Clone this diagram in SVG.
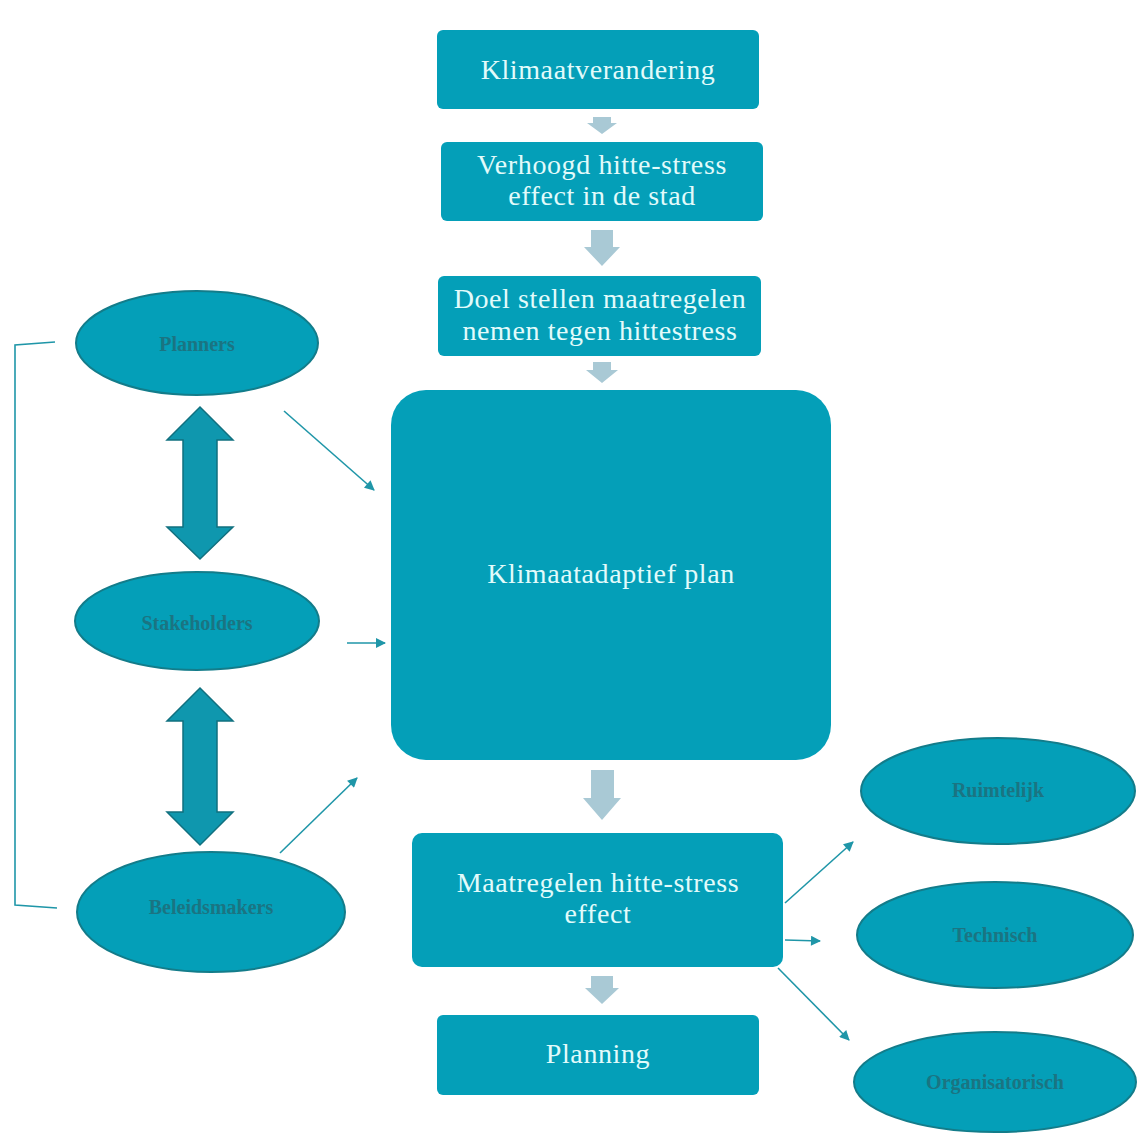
<svg xmlns="http://www.w3.org/2000/svg" width="1143" height="1142" viewBox="0 0 1143 1142">
<style>
.box{fill:#049fb8;}
.ell{fill:#049fb8;stroke:#137c8a;stroke-width:2;}
.t{font-family:"Liberation Serif",serif;font-size:28px;letter-spacing:0.6px;fill:#e2fbfb;text-anchor:middle;}
.e{font-family:"Liberation Serif",serif;font-size:20px;font-weight:bold;fill:#1b7482;text-anchor:middle;}
.ga{fill:#a9c9d5;}
.ln{stroke:#1f96a8;stroke-width:1.6;fill:none;}
.dbl{fill:#0f97ae;stroke:#11707f;stroke-width:1.5;}
</style>
<defs>
<marker id="ah" viewBox="0 0 10 10" refX="9" refY="5" markerWidth="11" markerHeight="10" orient="auto" markerUnits="userSpaceOnUse">
<path d="M0,0 L10,5 L0,10 z" fill="#1f96a8"/>
</marker>
</defs>
<rect width="1143" height="1142" fill="#ffffff"/>
<g id="connectors">
<polygon class="ga" points="593,117 611,117 611,123 617,123 602,134 587,123 593,123"/>
<polygon class="ga" points="591,230 613,230 613,247 620,247 602,266 584,247 591,247"/>
<polygon class="ga" points="593,362 611,362 611,370 618,370 602,383 586,370 593,370"/>
<polygon class="ga" points="591,770 614,770 614,798 621,798 602,820 583,798 591,798"/>
<polygon class="ga" points="591,976 613,976 613,988 619,988 602,1004 585,988 591,988"/>
<polyline class="ln" points="55,342 15,345 15,905 57,908"/>
<line class="ln" x1="284" y1="411" x2="374" y2="490" marker-end="url(#ah)"/>
<line class="ln" x1="347" y1="643" x2="385" y2="643" marker-end="url(#ah)"/>
<line class="ln" x1="280" y1="853" x2="357" y2="778" marker-end="url(#ah)"/>
<line class="ln" x1="785" y1="903" x2="853" y2="842" marker-end="url(#ah)"/>
<line class="ln" x1="785" y1="940" x2="820" y2="941" marker-end="url(#ah)"/>
<line class="ln" x1="778" y1="968" x2="849" y2="1040" marker-end="url(#ah)"/>
<polygon class="dbl" points="200,407 233,440 217,440 217,527 233,527 200,559 167,527 183,527 183,440 167,440"/>
<polygon class="dbl" points="200,688 233,721 217,721 217,812 233,812 200,845 167,812 183,812 183,721 167,721"/>
</g>
<g id="n-klimaatverandering">
<rect class="box" x="437" y="30" width="322" height="79" rx="6"/>
<text class="t" x="598" y="79">Klimaatverandering</text>
</g>
<g id="n-verhoogd">
<rect class="box" x="441" y="142" width="322" height="79" rx="6"/>
<text class="t" x="602" y="174">Verhoogd hitte-stress</text>
<text class="t" x="602" y="205">effect in de stad</text>
</g>
<g id="n-doel">
<rect class="box" x="438" y="276" width="323" height="80" rx="6"/>
<text class="t" x="600" y="308">Doel stellen maatregelen</text>
<text class="t" x="600" y="340">nemen tegen hittestress</text>
</g>
<g id="n-plan">
<rect class="box" x="391" y="390" width="440" height="370" rx="35"/>
<text class="t" x="611" y="583">Klimaatadaptief plan</text>
</g>
<g id="n-maatregelen">
<rect class="box" x="412" y="833" width="371" height="134" rx="10"/>
<text class="t" x="598" y="892">Maatregelen hitte-stress</text>
<text class="t" x="598" y="923">effect</text>
</g>
<g id="n-planning">
<rect class="box" x="437" y="1015" width="322" height="80" rx="6"/>
<text class="t" x="598" y="1063">Planning</text>
</g>
<g id="n-planners">
<ellipse class="ell" cx="197" cy="343" rx="121" ry="52"/>
<text class="e" x="197" y="351">Planners</text>
</g>
<g id="n-stakeholders">
<ellipse class="ell" cx="197" cy="621" rx="122" ry="49"/>
<text class="e" x="197" y="630">Stakeholders</text>
</g>
<g id="n-beleidsmakers">
<ellipse class="ell" cx="211" cy="912" rx="134" ry="60"/>
<text class="e" x="211" y="914">Beleidsmakers</text>
</g>
<g id="n-ruimtelijk">
<ellipse class="ell" cx="998" cy="791" rx="137" ry="53"/>
<text class="e" x="998" y="797">Ruimtelijk</text>
</g>
<g id="n-technisch">
<ellipse class="ell" cx="995" cy="935" rx="138" ry="53"/>
<text class="e" x="995" y="942">Technisch</text>
</g>
<g id="n-organisatorisch">
<ellipse class="ell" cx="995" cy="1082" rx="141" ry="50"/>
<text class="e" x="995" y="1089">Organisatorisch</text>
</g>
</svg>
